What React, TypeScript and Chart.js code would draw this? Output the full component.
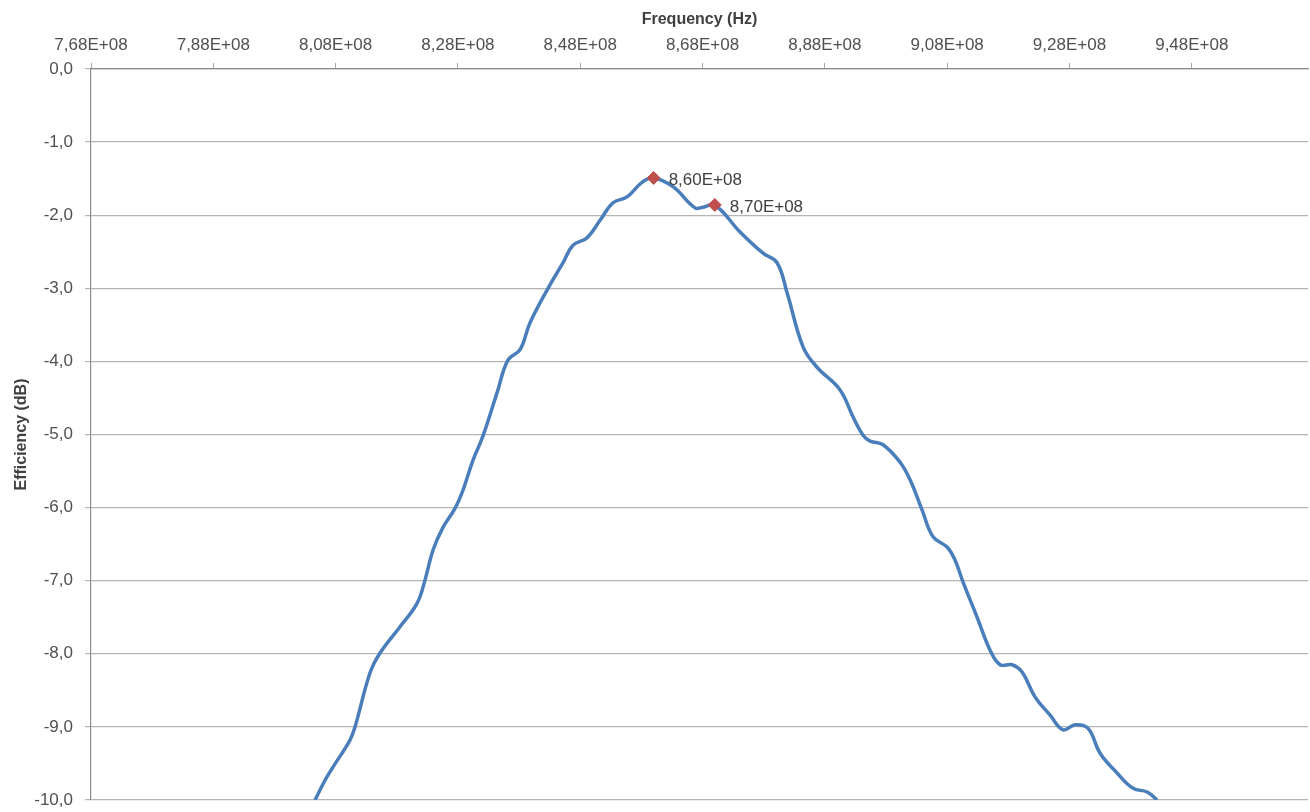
import { useEffect, useRef } from 'react';
import { Chart, registerables } from 'chart.js';

Chart.register(...registerables);

// Frequency in MHz (converted to Hz when building the dataset)
const frequencyMHz = [
  804.63, 806.27, 807.57, 810.35, 811.17, 813.63, 815.26, 818.53, 821.31, 822.62,
  823.93, 825.56, 827.52, 828.83, 830.47, 832.1, 834.39, 836.19, 838.15, 839.79,
  842.73, 845.19, 846.82, 849.11, 851.24, 853.36, 855.65, 858.11, 860.0, 863.17,
  866.77, 868.08, 870.0, 874.13, 877.89, 880.18, 881.82, 884.43, 886.72, 890.48,
  892.61, 894.24, 895.39, 897.52, 900.3, 901.93, 903.89, 905.69, 907.98, 909.29,
  910.6, 912.89, 915.01, 916.65, 918.61, 920.25, 922.37, 924.83, 926.95, 928.91,
  931.04, 933.0, 935.78, 938.4, 940.69, 942.32,
];

const efficiencyDb = [
  -10.0, -9.73, -9.55, -9.18, -9.0, -8.26, -7.99, -7.63, -7.31, -6.99,
  -6.58, -6.27, -6.01, -5.76, -5.35, -5.02, -4.43, -3.98, -3.84, -3.47,
  -3.0, -2.65, -2.41, -2.31, -2.07, -1.83, -1.75, -1.55, -1.49, -1.61,
  -1.9, -1.89, -1.86, -2.23, -2.52, -2.65, -3.06, -3.8, -4.08, -4.39,
  -4.76, -5.01, -5.09, -5.14, -5.38, -5.62, -6.03, -6.4, -6.54, -6.72,
  -7.02, -7.5, -7.95, -8.15, -8.15, -8.25, -8.59, -8.84, -9.04, -8.97,
  -9.02, -9.36, -9.63, -9.84, -9.89, -10.0,
];

const markerFrequencyMHz = [860, 870];
const markerEfficiencyDb = [-1.49, -1.86];

const xTickValuesMHz = [768, 788, 808, 828, 848, 868, 888, 908, 928, 948];
const xMinMHz = 768;
const xMaxMHz = 967;
const yMin = -10;
const yMax = 0;

const FONT = '"Liberation Sans", Arial, sans-serif';

const formatHz = (v: number) => (v / 1e8).toFixed(2).replace('.', ',') + 'E+08';
const formatDb = (v: number) => {
  const s = Math.abs(v).toFixed(1).replace('.', ',');
  return v < -1e-9 ? '-' + s : s;
};

const markerLabelsPlugin = {
  id: 'markerLabels',
  afterDatasetsDraw(chart: any) {
    const meta = chart.getDatasetMeta(0);
    const ctx = chart.ctx;
    ctx.save();
    ctx.font = `17px ${FONT}`;
    ctx.fillStyle = '#404040';
    ctx.textAlign = 'left';
    ctx.textBaseline = 'middle';
    meta.data.forEach((pt: any, i: number) => {
      ctx.fillText(formatHz(markerFrequencyMHz[i] * 1e6), pt.x + 15, pt.y + 2);
    });
    ctx.restore();
  },
};

export default function App() {
  const canvasRef = useRef<HTMLCanvasElement | null>(null);

  useEffect(() => {
    if (!canvasRef.current) return;
    const lineData = frequencyMHz.map((f, i) => ({ x: f * 1e6, y: efficiencyDb[i] }));
    const markerData = markerFrequencyMHz.map((f, i) => ({ x: f * 1e6, y: markerEfficiencyDb[i] }));

    const chart = new Chart(canvasRef.current, {
      type: 'line',
      data: {
        datasets: [
          {
            label: 'Markers',
            data: markerData,
            showLine: false,
            pointStyle: 'rectRot',
            pointRadius: 6.5,
            pointBackgroundColor: '#C0504D',
            pointBorderColor: '#C0504D',
            pointBorderWidth: 1,
            order: 0,
          },
          {
            label: 'Efficiency',
            data: lineData,
            borderColor: '#4A7EBB',
            borderWidth: 3.5,
            pointRadius: 0,
            tension: 0.4,
            fill: false,
            order: 1,
          },
        ],
      },
      options: {
        responsive: false,
        animation: false,
        layout: { autoPadding: false, padding: { left: 0, top: 0, right: 2, bottom: 12 } },
        plugins: {
          legend: { display: false },
          tooltip: { enabled: false },
        },
        scales: {
          x: {
            type: 'linear',
            position: 'top',
            min: xMinMHz * 1e6,
            max: xMaxMHz * 1e6,
            afterBuildTicks: (scale: any) => {
              scale.ticks = xTickValuesMHz.map((v) => ({ value: v * 1e6 }));
            },
            afterFit: (scale: any) => {
              scale.height = 69;
              scale.paddingLeft = 0;
              scale.paddingRight = 0;
            },
            ticks: {
              callback: (v: any) => formatHz(Number(v)),
              font: { family: FONT, size: 17 },
              color: '#505050',
              padding: 7,
              maxRotation: 0,
              autoSkip: false,
            },
            grid: {
              drawOnChartArea: false,
              drawTicks: true,
              tickLength: 6,
              color: '#A6A6A6',
            },
            border: { display: true, color: '#8C8C8C', width: 1.2 },
            title: {
              display: true,
              text: 'Frequency (Hz)',
              font: { family: FONT, size: 16, weight: 'bold' },
              color: '#404040',
              padding: { top: 10, bottom: 0 },
            },
          },
          y: {
            type: 'linear',
            min: yMin,
            max: yMax,
            ticks: {
              stepSize: 1,
              callback: (v: any) => formatDb(Number(v)),
              font: { family: FONT, size: 17 },
              color: '#505050',
              padding: 12,
            },
            afterFit: (scale: any) => {
              scale.width = 91;
              scale.paddingTop = 0;
              scale.paddingBottom = 0;
            },
            grid: {
              color: '#B4B4B4',
              lineWidth: 1.2,
              drawTicks: true,
              tickLength: 6,
            },
            border: { display: true, color: '#8C8C8C', width: 1.2 },
            title: {
              display: true,
              text: 'Efficiency (dB)',
              font: { family: FONT, size: 16, weight: 'bold' },
              color: '#404040',
              padding: { top: 12, bottom: 0 },
            },
          },
        },
      },
      plugins: [markerLabelsPlugin],
    } as any);

    return () => chart.destroy();
  }, []);

  return (
    <div style={{ position: 'absolute', left: 0, top: 0, width: 1310, height: 812, background: '#fff' }}>
      <canvas ref={canvasRef} width={1310} height={812} style={{ width: 1310, height: 812, display: 'block' }} />
    </div>
  );
}
